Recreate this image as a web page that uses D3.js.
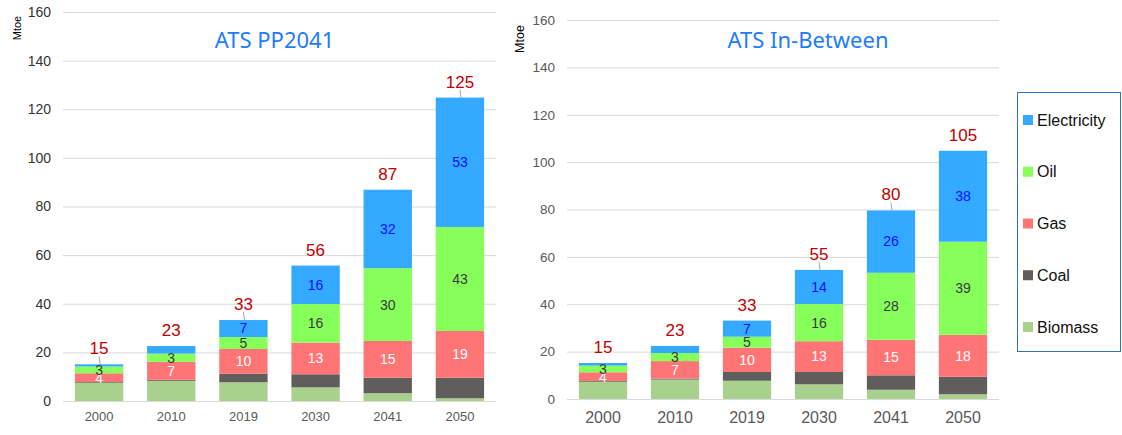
<html lang="en">
<head>
	<meta charset="utf-8">
	<title>ATS scenarios - final energy</title>
	<script src="https://d3js.org/d3.v7.min.js"></script>
	<style>
		body {
			margin: 0;
			background: #fff;
		}
		svg {
			display: block;
			font-family: "Liberation Sans", Arial, sans-serif;
		}
		.grid line {
			stroke: #d9d9d9;
		}
		.title {
			font-family: "Noto Sans", "Liberation Sans", sans-serif;
			fill: #1e7bff;
		}
	</style>
</head>
<body>
	<svg id="chart" width="1122" height="435"></svg>
<script>
	// categories and series
	var years = ["2000", "2010", "2019", "2030", "2041", "2050"];
	var seriesNames = ["Biomass", "Coal", "Gas", "Oil", "Electricity"];
	var yTicks = [0, 20, 40, 60, 80, 100, 120, 140, 160];

	// ATS PP2041 (Mtoe)
	var ppBiomass = [7.5, 8.3, 7.7, 5.6, 3.2, 1.1];
	var ppCoal = [0.3, 0.4, 3.5, 5.4, 6.4, 8.5];
	var ppGas = [3.6, 7.4, 10.2, 13.0, 15.1, 19.2];
	var ppOil = [2.8, 3.4, 4.9, 15.9, 29.9, 42.8];
	var ppElectricity = [0.9, 3.1, 7.0, 15.8, 32.3, 53.2];
	var ppTotals = [15, 23, 33, 56, 87, 125];

	// ATS In-Between (Mtoe)
	var ibBiomass = [7.3, 8.2, 7.7, 6.2, 3.9, 2.0];
	var ibCoal = [0.3, 0.4, 3.7, 5.2, 6.1, 7.4];
	var ibGas = [3.7, 7.4, 10.3, 13.0, 15.0, 17.7];
	var ibOil = [2.8, 3.4, 4.6, 15.7, 28.3, 39.3];
	var ibElectricity = [1.1, 3.0, 6.8, 14.4, 26.3, 38.4];
	var ibTotals = [15, 23, 33, 55, 80, 105];

	var colors = {
		Biomass: "#a9d18e",
		Coal: "#5f5e5c",
		Gas: "#ff7575",
		Oil: "#86ff5a",
		Electricity: "#33aaff"
	};
	var labelColors = {Gas: "#ffffff", Oil: "#3a3a3a", Electricity: "#1010ff"};

	var svg = d3.select("#chart");

	function buildRows(b, c, g, o, e) {
		return years.map(function (y, i) {
			return {year: y, Biomass: b[i], Coal: c[i], Gas: g[i], Oil: o[i], Electricity: e[i]};
		});
	}

	function drawChart(opt) {
		var x = d3.scaleBand().domain(years).range([opt.left, opt.right]).paddingInner(0.33).paddingOuter(0.165);
		var y = d3.scaleLinear().domain([0, 160]).range([opt.bottom, opt.top]);
		var g = svg.append("g");

		// gridlines + y labels
		var yAxis = g.append("g")
			.attr("class", "grid")
			.attr("transform", "translate(" + opt.left + ",0)")
			.call(d3.axisLeft(y).tickValues(yTicks).tickSize(-(opt.right - opt.left)).tickPadding(12));
		yAxis.select(".domain").remove();
		yAxis.selectAll("text")
			.style("font-size", opt.yFont + "px")
			.style("fill", opt.yColor);

		// x labels
		var xAxis = g.append("g")
			.attr("transform", "translate(0," + opt.bottom + ")")
			.call(d3.axisBottom(x).tickSize(0).tickPadding(opt.xPad));
		xAxis.select(".domain").remove();
		xAxis.selectAll("text")
			.style("font-size", opt.xFont + "px")
			.style("fill", "#595959");

		// Mtoe
		g.append("text")
			.attr("transform", "translate(" + opt.unitX + "," + opt.unitY + ") rotate(-90)")
			.attr("text-anchor", "middle")
			.attr("dy", "0.35em")
			.style("font-size", opt.unitFont + "px")
			.text("Mtoe");

		// title
		g.append("text")
			.attr("class", "title")
			.attr("x", (opt.left + opt.right) / 2 + opt.titleShift)
			.attr("y", opt.titleY)
			.attr("text-anchor", "middle")
			.attr("dy", "0.35em")
			.style("font-size", "22px")
			.text(opt.title);

		var rows = opt.rows;
		var stacked = d3.stack().keys(seriesNames)(rows);

		var layers = g.selectAll(".layer")
			.data(stacked)
			.enter().append("g")
			.attr("class", "layer")
			.attr("fill", function (d) { return colors[d.key]; });

		layers.selectAll("rect")
			.data(function (d) { return d; })
			.enter().append("rect")
			.attr("x", function (d) { return x(d.data.year); })
			.attr("width", x.bandwidth())
			.attr("y", function (d) { return y(d[1]); })
			.attr("height", function (d) { return y(d[0]) - y(d[1]); });

		// segment labels
		stacked.forEach(function (layer) {
			if (!labelColors[layer.key]) return;
			layer.forEach(function (d) {
				var v = d[1] - d[0];
				if (layer.key === "Electricity" && v < 5) return;
				g.append("text")
					.attr("x", x(d.data.year) + x.bandwidth() / 2)
					.attr("y", y((d[0] + d[1]) / 2))
					.attr("dy", "0.35em")
					.attr("text-anchor", "middle")
					.style("font-size", "14px")
					.style("fill", labelColors[layer.key])
					.text(Math.round(v));
			});
		});

		// totals
		var top = stacked[stacked.length - 1];
		top.forEach(function (d, i) {
			var cx = x(d.data.year) + x.bandwidth() / 2;
			var ty = y(d[1]);
			if (opt.leaders.indexOf(d.data.year) >= 0) {
				g.append("line")
					.attr("x1", cx).attr("x2", cx + 1)
					.attr("y1", ty - 8).attr("y2", ty)
					.style("stroke", "#a6a6a6");
			}
			g.append("text")
				.attr("x", cx)
				.attr("y", ty - 16)
				.attr("dy", "0.35em")
				.attr("text-anchor", "middle")
				.style("font-size", "17px")
				.style("fill", "#c00000")
				.text(opt.totals[i]);
		});
	}

	drawChart({
		title: "ATS PP2041",
		rows: buildRows(ppBiomass, ppCoal, ppGas, ppOil, ppElectricity),
		totals: ppTotals,
		left: 63, right: 496, top: 12, bottom: 401,
		yFont: 14, yColor: "#333", xFont: 13, xPad: 11,
		unitX: 17, unitY: 28, unitFont: 11, titleY: 40, titleShift: -5,
		leaders: ["2000", "2019", "2050"]
	});

	drawChart({
		title: "ATS In-Between",
		rows: buildRows(ibBiomass, ibCoal, ibGas, ibOil, ibElectricity),
		totals: ibTotals,
		left: 567, right: 999, top: 20, bottom: 399,
		yFont: 13.5, yColor: "#595959", xFont: 16, xPad: 13,
		unitX: 520, unitY: 39, unitFont: 12.5, titleY: 40, titleShift: 25,
		leaders: ["2030", "2041"]
	});

	// legend
	var legend = svg.append("g");
	legend.append("rect")
		.attr("x", 1017.5).attr("y", 92.5)
		.attr("width", 103).attr("height", 259)
		.style("fill", "none")
		.style("stroke", "#2e75b6");
	var legendItems = seriesNames.slice().reverse();
	var ly = d3.scalePoint().domain(legendItems).range([120, 327]);
	legendItems.forEach(function (name) {
		legend.append("rect")
			.attr("x", 1023).attr("y", ly(name) - 5)
			.attr("width", 10).attr("height", 10)
			.style("fill", colors[name]);
		legend.append("text")
			.attr("x", 1037).attr("y", ly(name))
			.attr("dy", "0.35em")
			.style("font-size", "16px")
			.style("fill", "#111")
			.text(name);
	});
</script>
</body>
</html>
